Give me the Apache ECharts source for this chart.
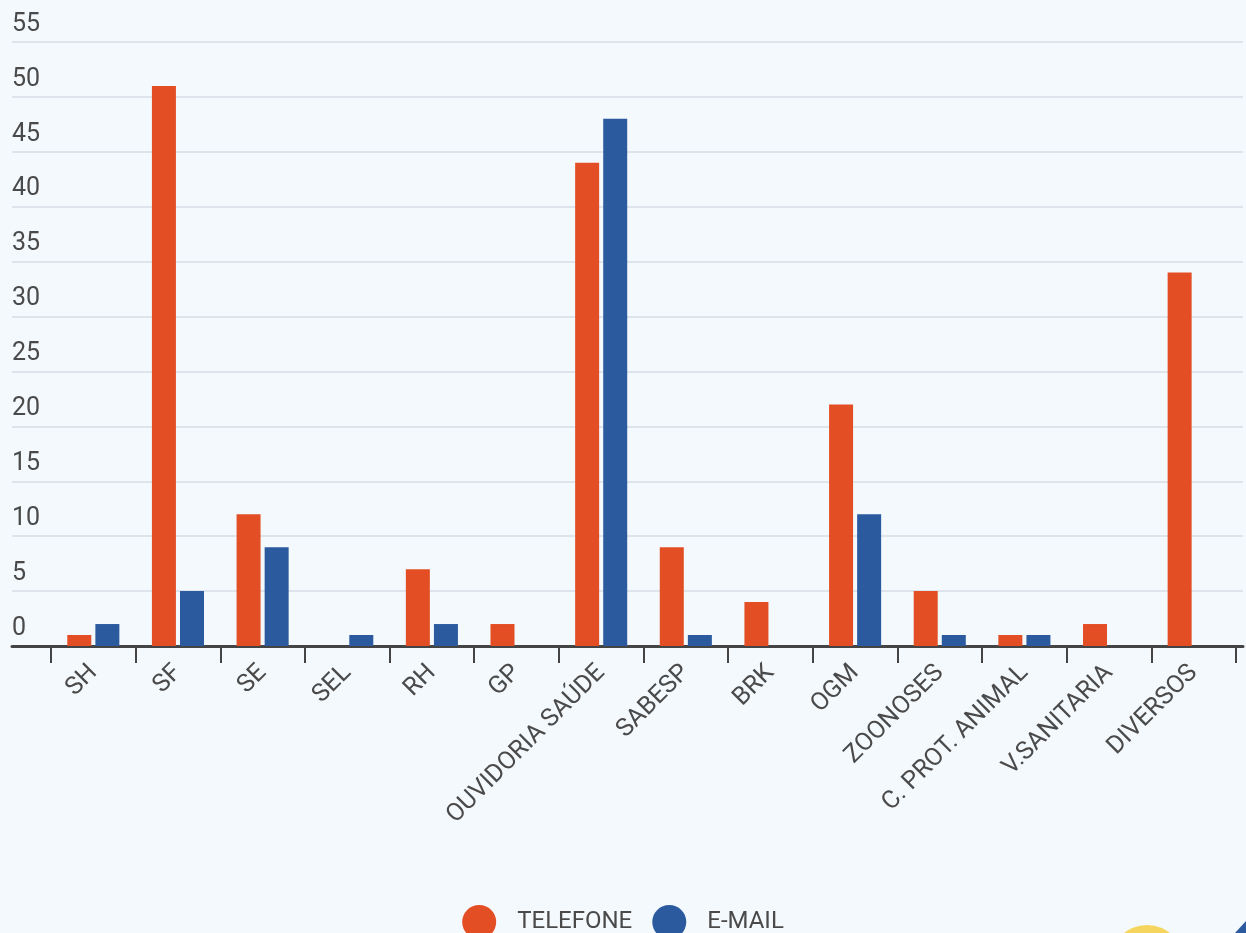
<!DOCTYPE html>
<html>
<head>
<meta charset="utf-8">
<script src="https://cdn.jsdelivr.net/npm/echarts@6/dist/echarts.min.js"></script>
<style>
html,body{margin:0;padding:0;background:#F4F9FD;}
#c{width:1246px;height:933px;}
</style>
</head>
<body>
<div id="c"></div>
<script>
const categories = ['SH','SF','SE','SEL','RH','GP','OUVIDORIA SAÚDE','SABESP','BRK','OGM','ZOONOSES','C. PROT. ANIMAL','V.SANITARIA','DIVERSOS'];
const telefone = [1,51,12,0,7,2,44,9,4,22,5,1,2,34];
const email = [2,5,9,1,2,0,48,1,0,12,1,1,0,0];
const yMin = 0, yMax = 55, yStep = 5;

const chart = echarts.init(document.getElementById('c'));
const font = 'Roboto, "Noto Sans", sans-serif';
chart.setOption({
  backgroundColor: '#F4F9FD',
  animation: false,
  textStyle: { fontFamily: font },
  legend: {
    data: ['TELEFONE','E-MAIL'],
    left: 'center',
    top: 900,
    icon: 'circle',
    itemWidth: 34,
    itemHeight: 34,
    itemGap: 20,
    textStyle: { fontSize: 24, color: '#4a4a4a', fontFamily: font, padding: [0,0,0,16] }
  },
  grid: [
    { left: 12, right: 3, top: 42, bottom: 287, containLabel: false },
    { left: 51, right: 10, top: 42, bottom: 287, containLabel: false }
  ],
  xAxis: [
    { gridIndex: 0, type: 'value', min: 0, max: 1, show: true,
      axisLine: { show: true, onZero: false, lineStyle: { color: '#444', width: 3 } },
      axisTick: { show: false }, axisLabel: { show: false }, splitLine: { show: false } },
    { gridIndex: 1, type: 'category', data: categories,
      axisLine: { show: false, onZero: false },
      axisTick: { show: true, length: 17, lineStyle: { color: '#444', width: 2 } },
      axisLabel: { rotate: 45, fontSize: 25, color: '#4a4a4a', margin: 23, interval: 0, fontFamily: font } }
  ],
  yAxis: [
    { gridIndex: 0, type: 'value', min: yMin, max: yMax, interval: yStep,
      axisLine: { show: false }, axisTick: { show: false },
      splitLine: { show: true, lineStyle: { color: '#D6DDE5', width: 1.5 } },
      axisLabel: { inside: true, margin: 0, fontSize: 25, color: '#4a4a4a', verticalAlign: 'bottom', padding: [0,0,5,0], fontFamily: font,
        showMinLabel: true, showMaxLabel: true } },
    { gridIndex: 1, type: 'value', min: yMin, max: yMax, interval: yStep, show: false }
  ],
  series: [
    { name: 'TELEFONE', type: 'bar', xAxisIndex: 1, yAxisIndex: 1, data: telefone,
      barWidth: 24, barGap: '17%', itemStyle: { color: '#E34E24' } },
    { name: 'E-MAIL', type: 'bar', xAxisIndex: 1, yAxisIndex: 1, data: email,
      barWidth: 24, barGap: '17%', itemStyle: { color: '#2B5A9F' } }
  ],
  graphic: [
    { type: 'circle', shape: { cx: 1147, cy: 962, r: 37 }, style: { fill: '#F6D55E' }, silent: true },
    { type: 'polygon', shape: { points: [[1235,933],[1246,921],[1246,933]] }, style: { fill: '#2B5A9F' }, silent: true }
  ]
});
</script>
</body>
</html>
